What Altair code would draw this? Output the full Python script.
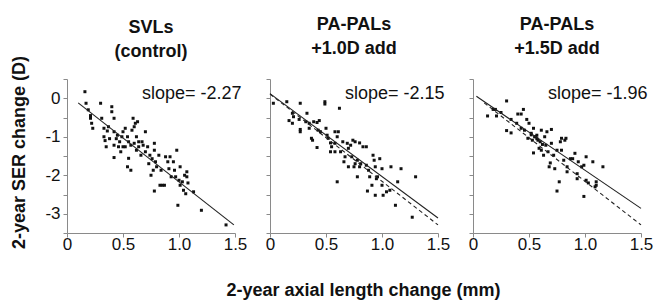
import altair as alt
import pandas as pd

FONT = "Liberation Sans"

# ---- axis ticks ----
x_ticks = [0, 0.5, 1.0, 1.5]
y_ticks = [-3.5, -3, -2.5, -2, -1.5, -1, -0.5, 0, 0.5]

# ---- panel titles / slopes ----
panel_titles = [["SVLs", "(control)"], ["PA-PALs", "+1.0D add"], ["PA-PALs", "+1.5D add"]]
slope_labels = ["slope= -2.27", "slope= -2.15", "slope= -1.96"]

# ---- scatter data (2-year axial length change, 2-year SER change) ----
svl_x = [0.16, 0.17, 0.19, 0.21, 0.21, 0.22, 0.23, 0.30, 0.31, 0.33, 0.33, 0.34, 0.35, 0.36, 0.37, 0.38,
         0.40, 0.40, 0.42, 0.42, 0.42, 0.42, 0.44, 0.45, 0.46, 0.47, 0.48, 0.49, 0.50, 0.50,
         0.52, 0.52, 0.54, 0.54, 0.55, 0.55, 0.57, 0.57, 0.59, 0.58, 0.60, 0.61, 0.63, 0.60, 0.62, 0.62,
         0.64, 0.64, 0.66, 0.67, 0.68, 0.70, 0.70, 0.72, 0.73, 0.74, 0.75, 0.76, 0.77, 0.78, 0.78, 0.78, 0.79,
         0.80, 0.82, 0.83, 0.84, 0.85, 0.87, 0.88, 0.90, 0.91, 0.92, 0.93, 0.95, 0.96, 0.97, 0.98, 0.99, 1.00,
         1.01, 1.01, 1.03, 1.04, 1.05, 1.06, 1.07, 1.07, 1.08, 1.13, 1.20, 1.42]
svl_y = [0.17, -0.13, -0.30, -0.45, -0.52, -0.65, -0.78, -0.13, -0.52, -0.78, -1.00, -1.10, -1.26, -0.85, -0.74, -1.05,
         -0.22, -0.35, -0.52, -0.87, -1.22, -1.54, -1.05, -0.96, -1.26, -1.13, -1.39, -1.00, -0.87, -1.26,
         -0.78, -1.26, -1.00, -1.78, -1.56, -1.13, -1.87, -1.22, -0.52, -0.83, -0.74, -0.65, -0.61, -1.17, -1.00, -1.35,
         -1.26, -1.13, -1.48, -1.13, -1.22, -0.87, -1.39, -1.26, -1.70, -1.48, -2.00, -1.57, -1.87, -1.17, -1.35, -2.41, -1.65,
         -1.78, -1.48, -2.26, -1.87, -2.26, -2.26, -1.52, -1.65, -1.83, -1.52, -2.04, -1.65, -1.87, -2.04, -1.35, -2.78, -2.13,
         -1.78, -2.26, -2.17, -2.39, -2.00, -2.48, -2.04, -1.91, -2.20, -2.43, -2.91, -3.29]

pal10_x = [0.03, 0.15, 0.27, 0.20, 0.21, 0.17, 0.20, 0.26, 0.27, 0.27,
           0.33, 0.32, 0.35, 0.35, 0.37, 0.38, 0.39, 0.42, 0.42, 0.43,
           0.44, 0.45, 0.49, 0.49, 0.50, 0.51, 0.52, 0.54, 0.54, 0.55,
           0.58, 0.58, 0.58, 0.60, 0.60, 0.62, 0.61, 0.63, 0.65, 0.66,
           0.67, 0.69, 0.70, 0.70, 0.72, 0.73, 0.74, 0.75, 0.76, 0.76,
           0.78, 0.78, 0.80, 0.80, 0.81, 0.83, 0.86, 0.86, 0.87, 0.88,
           0.89, 0.91, 0.92, 0.93, 0.94, 0.94, 0.95, 0.96, 0.98, 1.00, 1.00,
           1.01, 1.04, 1.07, 1.08, 1.12, 1.14, 1.17, 1.27, 1.30]
pal10_y = [-0.13, -0.09, -0.13, -0.39, -0.48, -0.58, -0.65, -0.55, -0.81, -0.87,
           -0.39, -0.61, -0.65, -0.78, -1.04, -1.09, -0.61, -0.63, -1.28, -0.83,
           -0.58, -0.87, -0.09, -0.15, -0.78, -0.96, -1.04, -1.16, -1.39, -1.26,
           -0.87, -1.17, -1.39, -1.00, -2.17, -0.26, -0.87, -1.39, -1.13, -1.65,
           -1.52, -1.17, -1.78, -1.30, -1.22, -1.52, -1.09, -1.78, -1.13, -1.70,
           -1.61, -2.04, -1.16, -1.78, -1.70, -1.26, -1.26, -1.74, -2.41, -1.87,
           -2.04, -2.26, -1.48, -1.61, -1.78, -2.52, -2.09, -2.04, -1.57, -1.83, -2.26,
           -2.52, -2.43, -2.39, -1.78, -2.78, -2.17, -1.83, -3.09, -2.04]

pal15_x = [0.13, 0.18, 0.20, 0.21, 0.25, 0.30, 0.30, 0.34, 0.34, 0.39,
           0.40, 0.43, 0.43, 0.45, 0.46, 0.48, 0.49, 0.50, 0.52, 0.53,
           0.54, 0.54, 0.55, 0.57, 0.58, 0.59, 0.61, 0.61, 0.63, 0.64,
           0.66, 0.67, 0.68, 0.69, 0.70, 0.70, 0.72, 0.73, 0.75, 0.77,
           0.78, 0.79, 0.79, 0.81, 0.82, 0.83, 0.84, 0.84, 0.87, 0.89,
           0.91, 0.93, 0.93, 0.94, 0.97, 0.99, 0.99, 1.01, 1.01, 1.03,
           1.07, 1.09, 1.10, 1.10, 1.16, 0.56, 0.57, 0.60, 0.62, 0.52, 0.65, 0.75]
pal15_y = [-0.46, -0.29, -0.29, -0.46, -0.37, -0.07, -0.84, -0.55, -0.90, -0.65,
           -0.41, -0.41, -0.78, -0.29, -0.83, -0.55, -1.04, -0.65, -0.91, -1.09,
           -0.78, -1.42, -1.00, -0.96, -1.09, -1.30, -0.83, -1.35, -1.48, -1.00,
           -0.87, -1.39, -1.78, -1.68, -0.81, -1.17, -1.48, -1.83, -2.41, -2.17,
           -1.13, -1.04, -1.35, -1.61, -1.09, -1.04, -1.78, -1.91, -1.57, -1.57,
           -1.43, -1.96, -2.09, -1.65, -1.78, -2.55, -1.74, -2.13, -1.52, -2.20,
           -1.65, -2.30, -2.17, -2.26, -1.78, -1.00, -1.05, -1.13, -1.20, -0.95, -1.22, -1.35]

scatter_x = [svl_x, pal10_x, pal15_x]
scatter_y = [svl_y, pal10_y, pal15_y]

# ---- regression lines: endpoints ----
fit_x = [[0.10, 1.49], [0.00, 1.50], [0.03, 1.50]]
fit_y = [[-0.12, -3.29], [0.12, -3.11], [0.05, -2.86]]
ctrl_x = [None, [0.00, 1.50], [0.10, 1.50]]
ctrl_y = [None, [0.11, -3.29], [-0.12, -3.29]]

slope_pos_x = 0.67
slope_pos_y = 0.12

W, H = 168, 154
TXT = "#111111"
AX = "#8a8a8a"
TITLE_OFFSETS = [-6, 21, 21]

xscale = alt.Scale(domain=[0, 1.5], nice=False, zero=False)
yscale = alt.Scale(domain=[-3.5, 0.5], nice=False, zero=False)


def make_panel(i):
    pts = pd.DataFrame({"x": scatter_x[i], "y": scatter_y[i]})
    x_axis = alt.Axis(
        values=x_ticks,
        labelExpr="datum.value == 0 ? '0' : format(datum.value, '.1f')",
        labelFlush=False, labelOverlap=False, grid=False,
        domainColor=AX, tickColor=AX, tickSize=4, labelPadding=-1,
        labelFont=FONT, labelFontSize=17, labelColor=TXT,
        title="2-year axial length change (mm)" if i == 1 else None,
        titleFont=FONT, titleFontSize=18, titleFontWeight="bold", titleColor=TXT,
        titlePadding=29, titleX=W / 2 + 9,
    )
    if i == 0:
        y_axis = alt.Axis(
            values=y_ticks,
            labelExpr="datum.value == round(datum.value) ? ('' + datum.value) : ''",
            labelFlush=False, labelOverlap=False, grid=False,
            domainColor=AX, tickColor=AX, tickSize=4, labelPadding=3,
            labelFont=FONT, labelFontSize=17, labelColor=TXT,
            title="2-year SER change (D)", titleFont=FONT, titleFontSize=18,
            titleFontWeight="bold", titleColor=TXT, titlePadding=16, titleY=H / 2 - 4,
        )
    else:
        y_axis = alt.Axis(values=y_ticks, labels=False, title=None, grid=False,
                          domainColor=AX, tickColor=AX, tickSize=4)

    X = alt.X("x:Q", scale=xscale, axis=x_axis)
    Y = alt.Y("y:Q", scale=yscale, axis=y_axis)

    base_pts = alt.Chart(pts).mark_square(size=9, color="#111111", opacity=1).encode(x=X, y=Y)
    layers = []
    if ctrl_x[i] is not None:
        cdf = pd.DataFrame({"x": ctrl_x[i], "y": ctrl_y[i]})
        layers.append(alt.Chart(cdf).mark_line(color="#222222", strokeWidth=1.1, strokeDash=[4, 3]).encode(
            x=X, y=Y))
    fdf = pd.DataFrame({"x": fit_x[i], "y": fit_y[i]})
    layers.append(alt.Chart(fdf).mark_line(color="#222222", strokeWidth=1.1).encode(x=X, y=Y))
    tdf = pd.DataFrame({"x": [slope_pos_x], "y": [slope_pos_y], "t": [slope_labels[i]]})
    layers.append(alt.Chart(tdf).mark_text(align="left", baseline="middle", font=FONT,
                                           fontSize=18, color=TXT).encode(x=X, y=Y, text="t:N"))

    return alt.layer(base_pts, *layers).properties(
        width=W, height=H,
        title=alt.TitleParams(text=panel_titles[i], font=FONT, fontSize=18, fontWeight="bold",
                              color=TXT, anchor="middle", lineHeight=24,
                              offset=TITLE_OFFSETS[i], frame="group"),
    )


chart = alt.hconcat(*[make_panel(i) for i in range(3)], spacing=35, bounds="flush").properties(
    padding={"left": 2, "top": 7, "right": 2, "bottom": 2}
).configure_view(stroke=None)

chart.save("out.html", embed_options={"renderer": "svg", "actions": False})
